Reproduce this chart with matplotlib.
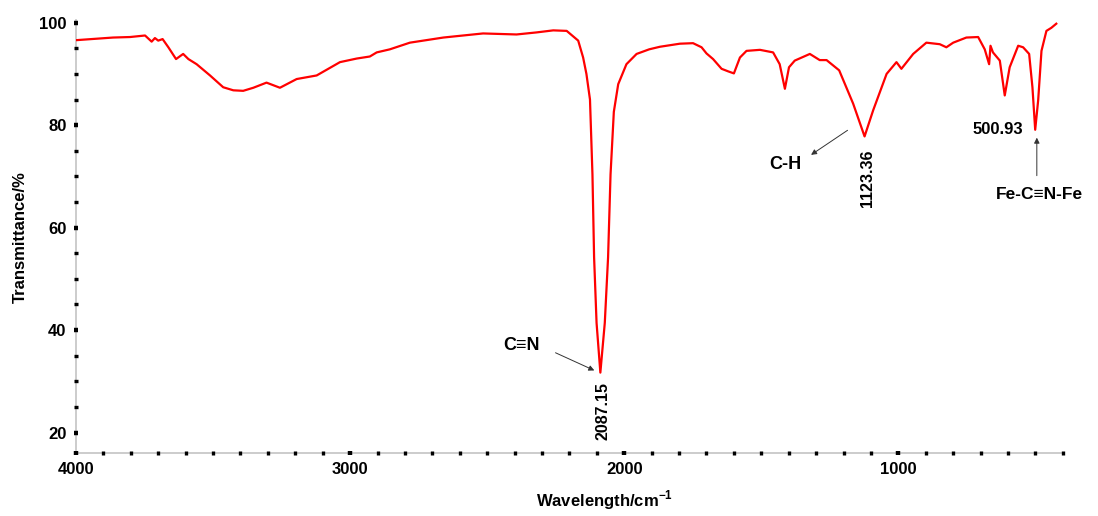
import matplotlib.pyplot as plt
from matplotlib.ticker import MultipleLocator

plt.rcParams['font.family'] = ['Liberation Sans', 'DejaVu Sans']
plt.rcParams['mathtext.fontset'] = 'custom'
plt.rcParams['mathtext.bf'] = 'Liberation Sans:bold'

# FTIR spectrum (wavenumber cm-1, transmittance %)
wavenumber = [3996, 3865, 3803, 3748, 3724, 3712, 3700, 3684, 3663, 3635, 3609, 3590,
              3560, 3511, 3463, 3426, 3390, 3353, 3305, 3256, 3195, 3122, 3037, 2976,
              2928, 2903, 2855, 2782, 2721, 2660, 2606, 2515, 2393, 2320, 2259, 2210,
              2168, 2150, 2138, 2125, 2116, 2110, 2101, 2087.15, 2071, 2059, 2050, 2038,
              2022, 1992, 1955, 1909, 1870, 1797, 1749, 1718, 1700, 1676, 1645, 1621,
              1600, 1578, 1554, 1505, 1457, 1433, 1414, 1399, 1378, 1323, 1287, 1262,
              1216, 1165, 1123.36, 1092, 1043, 1007, 989, 946, 898, 849, 825, 800, 752,
              709, 685, 669, 664, 655, 630, 612, 594, 563, 545, 523, 511, 500.93, 490,
              478, 460, 442, 424]
transmittance = [96.6, 97.1, 97.2, 97.5, 96.3, 97.0, 96.5, 96.8, 95.2, 92.9, 93.9, 92.9,
                 91.9, 89.7, 87.4, 86.8, 86.7, 87.3, 88.3, 87.3, 89.0, 89.7, 92.3, 93.0,
                 93.4, 94.2, 94.8, 96.1, 96.6, 97.1, 97.4, 97.9, 97.7, 98.1, 98.5, 98.4,
                 96.5, 93.2, 90.0, 85.0, 70.4, 54.2, 41.4, 31.7, 41.4, 54.2, 70.4, 82.6,
                 88.0, 91.9, 93.9, 94.8, 95.3, 95.9, 96.0, 95.2, 94.0, 92.9, 91.0, 90.5,
                 90.1, 93.2, 94.5, 94.7, 94.2, 91.9, 87.1, 91.3, 92.6, 93.9, 92.7, 92.7,
                 90.7, 84.2, 77.8, 82.9, 90.0, 92.3, 91.0, 93.9, 96.1, 95.8, 95.2, 96.1, 97.1,
                 97.2, 94.8, 91.9, 95.5, 94.2, 92.6, 85.8, 91.3, 95.5, 95.2, 93.9, 87.4, 79.1, 84.9,
                 94.5, 98.4, 99.0, 99.8]

fig = plt.figure(figsize=(10.98, 5.16), dpi=100)
ax = fig.add_axes([0.0692, 0.122, 0.8988, 0.839])
ax.plot(wavenumber, transmittance, color='red', lw=1.6)

ax.set_xlim(4000, 400)
ax.set_ylim(16, 100.5)
ax.xaxis.set_major_locator(MultipleLocator(1000))
ax.xaxis.set_minor_locator(MultipleLocator(100))
ax.yaxis.set_major_locator(MultipleLocator(20))
ax.yaxis.set_minor_locator(MultipleLocator(5))
ax.set_yticks([20, 40, 60, 80, 100])

for s in ['top', 'right']:
    ax.spines[s].set_visible(False)
for s in ['left', 'bottom']:
    ax.spines[s].set_color('#c8c8c8')
    ax.spines[s].set_linewidth(1.3)
    ax.spines[s].set_zorder(0.5)

ax.tick_params(which='major', direction='inout', length=3.5, width=3.2, color='black', pad=5)
ax.tick_params(which='minor', direction='inout', length=2.6, width=2.4, color='black')
for lab in ax.get_xticklabels() + ax.get_yticklabels():
    lab.set_fontweight('bold')
    lab.set_fontsize(12)

ax.set_xlabel(r'Wavelength/cm$^{\mathbf{-1}}$', fontsize=12, fontweight='bold')
ax.xaxis.set_label_coords(0.536, -0.082)
ax.set_ylabel('Transmittance/%', fontsize=12, fontweight='bold')
ax.yaxis.set_label_coords(-0.049, 0.5)

arrow = dict(arrowstyle='-|>', color='#333333', lw=0.7, mutation_scale=8)
ax.annotate('', xy=(2100, 31.9), xytext=(2260, 35.8), arrowprops=arrow)
ax.text(2373, 36.9, 'C≡N', fontsize=13, fontweight='bold', ha='center', va='center')
ax.text(2078, 24.2, '2087.15', fontsize=11.5, fontweight='bold', rotation=90, ha='center', va='center')

ax.annotate('', xy=(1327, 73.9), xytext=(1177, 79.3), arrowprops=arrow)
ax.text(1414, 72.3, 'C-H', fontsize=13, fontweight='bold', ha='center', va='center')
ax.text(1112, 69.6, '1123.36', fontsize=11.5, fontweight='bold', rotation=90, ha='center', va='center')

ax.annotate('', xy=(495, 78.1), xytext=(495, 69.6), arrowprops=arrow)
ax.text(637, 79.1, '500.93', fontsize=12, fontweight='bold', ha='center', va='center')
ax.text(484, 66.5, 'Fe-C≡N-Fe', fontsize=12.5, fontweight='bold', ha='center', va='center')

fig.savefig('out.png', dpi=100)
